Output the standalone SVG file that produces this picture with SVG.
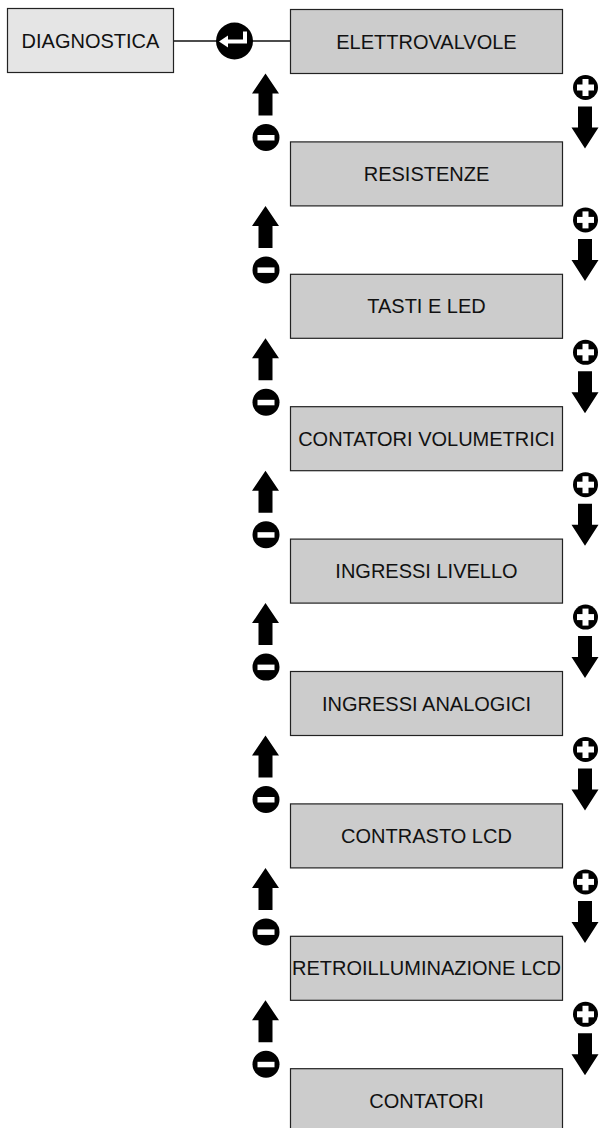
<svg xmlns="http://www.w3.org/2000/svg" width="599" height="1128" viewBox="0 0 599 1128">
<style>
.box{fill:#cccccc;stroke:#222;stroke-width:1.2}
.box0{fill:#e5e5e5;stroke:#222;stroke-width:1.2}
.lbl{font-family:"Liberation Sans",Arial,sans-serif;font-size:20px;fill:#111;text-anchor:middle}
.conn{stroke:#111;stroke-width:1.3;fill:none}
.blk{fill:#000}
.wht{fill:#fff}
</style>
<defs>
<g id="up"><polygon class="blk" points="265.5,0 279,20 272.5,20 272.5,42 258.5,42 258.5,20 252,20"/></g>
<g id="down"><polygon class="blk" points="578,33 592,33 592,54 598.5,54 585,75 571.5,54 578,54"/></g>
<g id="minus"><circle class="blk" cx="266" cy="64" r="13.5"/><rect class="wht" x="257.5" y="61.5" width="17" height="5.5"/></g>
<g id="plus"><circle class="blk" cx="585.5" cy="14" r="12.5"/><rect class="wht" x="577" y="11" width="17" height="6"/><rect class="wht" x="582.5" y="5.5" width="6" height="17"/></g>
</defs>
<g id="connectors">
<line class="conn" x1="174" y1="41" x2="290" y2="41"/>
<g id="enter">
<circle class="blk" cx="234.5" cy="41" r="18.5"/>
<polyline points="245,31.5 245,41.5 226,41.5" fill="none" stroke="#fff" stroke-width="4"/>
<polygon class="wht" points="219,41.5 228,35.5 228,47.5"/>
</g>
</g>
<g id="node-diagnostica"><rect class="box0" x="7.5" y="8.5" width="166" height="64"/><text class="lbl" x="90.5" y="48">DIAGNOSTICA</text></g>
<g id="node-1"><rect class="box" x="290.5" y="9.5" width="272" height="64"/><text class="lbl" x="426.5" y="48.5">ELETTROVALVOLE</text></g>
<g id="node-2"><rect class="box" x="290.5" y="141.9" width="272" height="64"/><text class="lbl" x="426.5" y="180.9">RESISTENZE</text></g>
<g id="node-3"><rect class="box" x="290.5" y="274.3" width="272" height="64"/><text class="lbl" x="426.5" y="313.3">TASTI E LED</text></g>
<g id="node-4"><rect class="box" x="290.5" y="406.7" width="272" height="64"/><text class="lbl" x="426.5" y="445.7">CONTATORI VOLUMETRICI</text></g>
<g id="node-5"><rect class="box" x="290.5" y="539.1" width="272" height="64"/><text class="lbl" x="426.5" y="578.1">INGRESSI LIVELLO</text></g>
<g id="node-6"><rect class="box" x="290.5" y="671.5" width="272" height="64"/><text class="lbl" x="426.5" y="710.5">INGRESSI ANALOGICI</text></g>
<g id="node-7"><rect class="box" x="290.5" y="803.9" width="272" height="64"/><text class="lbl" x="426.5" y="842.9">CONTRASTO LCD</text></g>
<g id="node-8"><rect class="box" x="290.5" y="936.3" width="272" height="64"/><text class="lbl" x="426.5" y="975.3">RETROILLUMINAZIONE LCD</text></g>
<g id="node-9"><rect class="box" x="290.5" y="1068.7" width="272" height="64"/><text class="lbl" x="426.5" y="1107.7">CONTATORI</text></g>
<g id="nav">
<g transform="translate(0,73.5)"><use href="#up"/><use href="#minus"/><use href="#plus"/><use href="#down"/></g>
<g transform="translate(0,205.9)"><use href="#up"/><use href="#minus"/><use href="#plus"/><use href="#down"/></g>
<g transform="translate(0,338.3)"><use href="#up"/><use href="#minus"/><use href="#plus"/><use href="#down"/></g>
<g transform="translate(0,470.7)"><use href="#up"/><use href="#minus"/><use href="#plus"/><use href="#down"/></g>
<g transform="translate(0,603.1)"><use href="#up"/><use href="#minus"/><use href="#plus"/><use href="#down"/></g>
<g transform="translate(0,735.5)"><use href="#up"/><use href="#minus"/><use href="#plus"/><use href="#down"/></g>
<g transform="translate(0,867.9)"><use href="#up"/><use href="#minus"/><use href="#plus"/><use href="#down"/></g>
<g transform="translate(0,1000.3)"><use href="#up"/><use href="#minus"/><use href="#plus"/><use href="#down"/></g>
</g>
</svg>
